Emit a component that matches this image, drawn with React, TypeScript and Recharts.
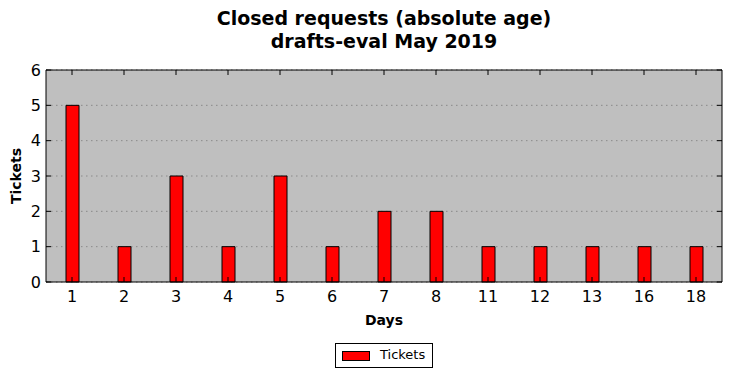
import React from 'react';
import { BarChart, Bar, XAxis, YAxis, CartesianGrid } from 'recharts';

const days = ['1', '2', '3', '4', '5', '6', '7', '8', '11', '12', '13', '16', '18'];
const tickets = [5, 1, 3, 1, 3, 1, 2, 2, 1, 1, 1, 1, 1];
const yTicks = [0, 1, 2, 3, 4, 5, 6];

const data = days.map((d, i) => ({ day: d, tickets: tickets[i] }));

const FONT = '"DejaVu Sans", sans-serif';
const TL = 5;

const BottomTick = (props: any) => {
  const { x, y, payload } = props;
  return (
    <g>
      <line x1={x} x2={x} y1={y} y2={y - TL} stroke="#000" strokeWidth={1} />
      <text x={x} y={y + 20} textAnchor="middle" fontSize={16} fill="#000" fontFamily={FONT}>
        {payload.value}
      </text>
    </g>
  );
};

const TopTick = (props: any) => {
  const { x, y } = props;
  return <line x1={x} x2={x} y1={y} y2={y + TL} stroke="#000" strokeWidth={1} />;
};

const LeftTick = (props: any) => {
  const { x, y, payload } = props;
  return (
    <g>
      <line x1={x} x2={x + TL} y1={y} y2={y} stroke="#000" strokeWidth={1} />
      <text x={x - 5} y={y} dy="0.36em" textAnchor="end" fontSize={16} fill="#000" fontFamily={FONT}>
        {payload.value}
      </text>
    </g>
  );
};

const RightTick = (props: any) => {
  const { x, y } = props;
  return <line x1={x} x2={x - TL} y1={y} y2={y} stroke="#000" strokeWidth={1} />;
};

export default function App() {
  return (
    <div style={{ position: 'absolute', left: 0, top: 0, width: 732, height: 378, background: '#fff', fontFamily: FONT }}>
      <div
        style={{
          position: 'absolute',
          left: 46,
          width: 676,
          top: 7,
          textAlign: 'center',
          fontWeight: 'bold',
          fontSize: 19,
          lineHeight: '23px',
          color: '#000',
        }}
      >
        Closed requests (absolute age)
        <br />
        drafts-eval May 2019
      </div>
      <BarChart
        width={732}
        height={378}
        data={data}
        margin={{ top: 69, right: 9, bottom: 66, left: 0 }}
        barCategoryGap={0}
      >
        <CartesianGrid
          vertical={false}
          fill="#bfbfbf"
          fillOpacity={1}
          stroke="#8a8a8a"
          strokeDasharray="1.5 3.5"
          strokeWidth={1}
        />
        <XAxis
          dataKey="day"
          height={30}
          tickSize={0}
          tickMargin={0}
          tickLine={false}
          axisLine={{ stroke: '#000', strokeWidth: 1 }}
          tick={<BottomTick />}
          interval={0}
        />
        <XAxis
          xAxisId="top"
          dataKey="day"
          orientation="top"
          height={1}
          tickSize={0}
          tickMargin={0}
          tickLine={false}
          axisLine={{ stroke: '#000', strokeWidth: 1 }}
          tick={<TopTick />}
          interval={0}
        />
        <YAxis
          width={46}
          domain={[0, 6]}
          ticks={yTicks}
          tickSize={0}
          tickMargin={0}
          tickLine={false}
          axisLine={{ stroke: '#000', strokeWidth: 1 }}
          tick={<LeftTick />}
          interval={0}
        />
        <YAxis
          yAxisId="right"
          orientation="right"
          width={1}
          domain={[0, 6]}
          ticks={yTicks}
          tickSize={0}
          tickMargin={0}
          tickLine={false}
          axisLine={{ stroke: '#000', strokeWidth: 1 }}
          tick={<RightTick />}
          interval={0}
        />
        <Bar dataKey="tickets" fill="#ff0000" stroke="#000" strokeWidth={1} barSize={13} isAnimationActive={false} />
        <Bar dataKey="tickets" xAxisId="top" yAxisId="right" fill="none" stroke="none" barSize={13} isAnimationActive={false} legendType="none" />
      </BarChart>
      <div
        style={{
          position: 'absolute',
          left: 16,
          top: 176,
          width: 0,
          height: 0,
        }}
      >
        <div
          style={{
            position: 'absolute',
            left: -40,
            top: -10,
            width: 80,
            textAlign: 'center',
            transform: 'rotate(-90deg)',
            fontWeight: 'bold',
            fontSize: 14,
            lineHeight: '20px',
            color: '#000',
          }}
        >
          Tickets
        </div>
      </div>
      <div
        style={{
          position: 'absolute',
          left: 46,
          width: 676,
          top: 310,
          textAlign: 'center',
          fontWeight: 'bold',
          fontSize: 14,
          lineHeight: '20px',
          color: '#000',
        }}
      >
        Days
      </div>
      <div
        style={{
          position: 'absolute',
          left: 335,
          top: 343,
          width: 96,
          height: 23,
          border: '1px solid #000',
          background: '#fff',
          boxSizing: 'content-box',
        }}
      >
        <div
          style={{
            position: 'absolute',
            left: 6,
            top: 7,
            width: 26,
            height: 8,
            background: '#ff0000',
            border: '1px solid #000',
          }}
        />
        <div
          style={{
            position: 'absolute',
            left: 44,
            top: 2,
            fontSize: 13,
            lineHeight: '18px',
            color: '#000',
          }}
        >
          Tickets
        </div>
      </div>
    </div>
  );
}
